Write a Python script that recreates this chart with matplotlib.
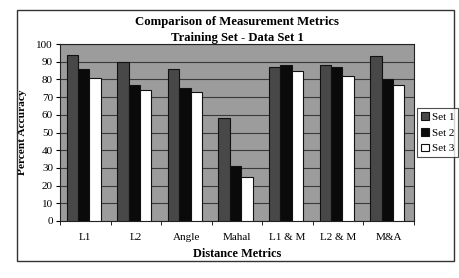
import matplotlib
matplotlib.use("Agg")
import matplotlib.pyplot as plt
import numpy as np
from matplotlib.patches import Rectangle

categories = ["L1", "L2", "Angle", "Mahal", "L1 & M", "L2 & M", "M&A"]
set1 = [94, 90, 86, 58, 87, 88, 93]
set2 = [86, 77, 75, 31, 88, 87, 80]
set3 = [81, 74, 73, 25, 85, 82, 77]
series_names = ["Set 1", "Set 2", "Set 3"]
yticks = list(range(0, 101, 10))

plt.rcParams['font.family'] = ['Liberation Serif', 'DejaVu Serif']

W, H = 460, 278
fig = plt.figure(figsize=(W / 100, H / 100), dpi=100)

# outer frame
fig.patches.append(Rectangle((17 / W, 1 - 261 / H), (454 - 17) / W, (261 - 10) / H,
                             transform=fig.transFigure, fill=False, edgecolor='#333333',
                             linewidth=1.0))

ax = fig.add_axes([60 / W, 1 - 221 / H, (414 - 60) / W, (221 - 44) / H])
ax.set_facecolor('#9c9c9c')

x = np.arange(len(categories))
bw = 0.225
colors = ['#484848', '#0a0a0a', '#ffffff']
for i, (vals, c, name) in enumerate(zip([set1, set2, set3], colors, series_names)):
    ax.bar(x + (i - 1) * bw - 0.03, vals, width=bw, color=c, edgecolor='#111111',
           linewidth=0.8, label=name, zorder=3)

ax.set_xlim(-0.5, len(categories) - 0.5)
ax.set_ylim(0, 100)
ax.set_yticks(yticks)
ax.set_yticklabels([str(t) for t in yticks], fontsize=8)
ax.yaxis.grid(True, color='#3a3a3a', linewidth=0.8, zorder=1)
ax.set_axisbelow(True)
ax.set_xticks(x)
ax.set_xticklabels(categories, fontsize=8)
ax.set_xticks(np.arange(-0.5, len(categories)), minor=True)
ax.tick_params(axis='x', which='major', length=0, pad=9)
ax.tick_params(axis='x', which='minor', length=3, direction='out')
ax.tick_params(axis='y', length=3, direction='out', pad=2)
for s in ax.spines.values():
    s.set_color('#222222')
    s.set_linewidth(0.8)

ax.set_ylabel("Percent Accuracy", fontsize=8.2, fontweight='bold', labelpad=7)
ax.set_xlabel("Distance Metrics", fontsize=8.8, fontweight='bold', labelpad=4)

fig.text(237 / W, 1 - 22 / H, "Comparison of Measurement Metrics", ha='center', va='center',
         fontsize=9.2, fontweight='bold')
fig.text(237 / W, 1 - 38 / H, "Training Set - Data Set 1", ha='center', va='center',
         fontsize=9.1, fontweight='bold')

leg = fig.legend(loc='upper left', bbox_to_anchor=(417 / W, 1 - 108 / H), fontsize=8,
                 frameon=True, fancybox=False, edgecolor='#222222', handlelength=0.7,
                 handleheight=0.7, handletextpad=0.3, borderpad=0.35, labelspacing=0.55,
                 borderaxespad=0)
leg.get_frame().set_linewidth(0.8)

fig.savefig("out.png", dpi=100)
